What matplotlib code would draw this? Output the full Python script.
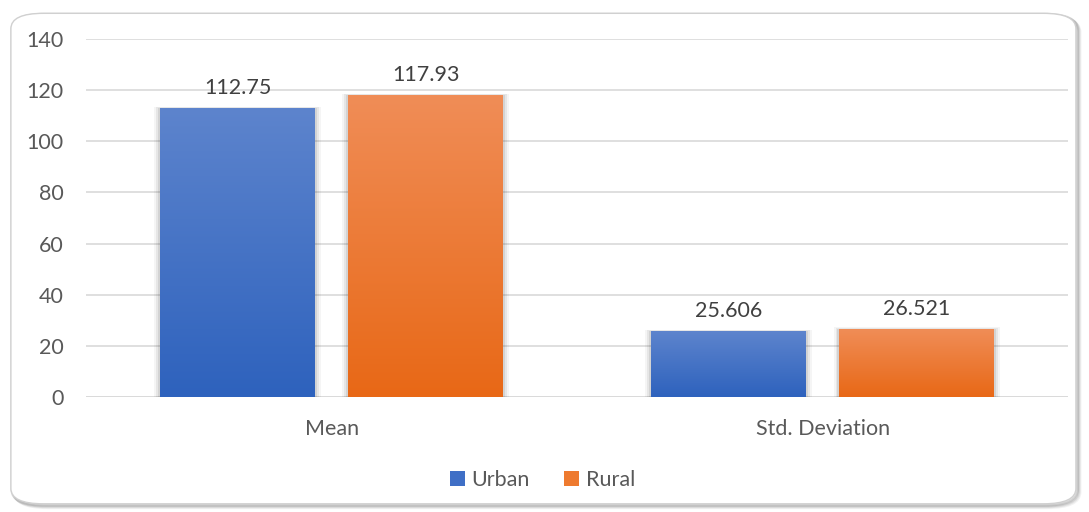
import numpy as np
import matplotlib.pyplot as plt
from matplotlib.patches import FancyBboxPatch, Rectangle
from matplotlib.colors import LinearSegmentedColormap

categories = ['Mean', 'Std. Deviation']
series_names = ['Urban', 'Rural']
urban = [112.75, 25.606]
rural = [117.93, 26.521]
value_labels = [['112.75', '25.606'], ['117.93', '26.521']]

plt.rcParams['font.family'] = ['Lato', 'DejaVu Sans']
txt = '#595959'
fs = 15.5

fig = plt.figure(figsize=(10.89, 5.12), dpi=100)

# rounded outer frame with a soft shadow
for i, a in enumerate([0.05, 0.06, 0.08, 0.10]):
    off = 0.0035 - i * 0.0008
    fig.patches.append(FancyBboxPatch((0.010 + off, 0.016 - off * 2), 0.978, 0.958,
                                      boxstyle='round,pad=0,rounding_size=0.03',
                                      transform=fig.transFigure, fc='none',
                                      ec=(0, 0, 0, a), lw=2.5, zorder=0))
fig.patches.append(FancyBboxPatch((0.010, 0.016), 0.978, 0.958,
                                  boxstyle='round,pad=0,rounding_size=0.03',
                                  transform=fig.transFigure, fc='white',
                                  ec='#D0D0D0', lw=1.0, zorder=0))

ax = fig.add_axes([0.079, 0.2246, 0.902, 0.6994], zorder=2)
ax.set_facecolor('none')
ax.set_xlim(-0.5, 1.5)
ax.set_ylim(0, 140)
ax.set_yticks(range(0, 141, 20))
ax.yaxis.grid(True, color='#D9D9D9', lw=1.2)
ax.set_axisbelow(True)
for s in ax.spines.values():
    s.set_visible(False)
ax.tick_params(axis='y', length=0, labelsize=fs, colors=txt, pad=16)
ax.tick_params(axis='x', length=0, labelsize=fs, colors=txt, pad=16)
ax.set_xticks([0, 1])
ax.set_xticklabels(categories)
ax.axhline(0, color='#D9D9D9', lw=1.2, zorder=1)

blue = LinearSegmentedColormap.from_list('b', ['#2E62BD', '#5D84CD'])
orange = LinearSegmentedColormap.from_list('o', ['#E86816', '#F08D57'])

w = 0.315
gap = 0.034
x = np.arange(len(categories))
grad = np.linspace(0, 1, 256).reshape(-1, 1)
for vals, cmap, off, labs in [(urban, blue, -(w / 2 + gap), value_labels[0]),
                              (rural, orange, (w / 2 + gap), value_labels[1])]:
    bars = ax.bar(x + off, vals, w, color='none', zorder=2)
    for b, v, lab in zip(bars, vals, labs):
        x0 = b.get_x()
        # faint shadow round each bar
        for k, a in enumerate([0.04, 0.06, 0.08]):
            d = 0.012 - k * 0.004
            ax.add_patch(Rectangle((x0 - d, 0), w + 2 * d, v + d * 60,
                                   fc=(0, 0, 0, a), ec='none', zorder=2))
        ax.imshow(grad, cmap=cmap, extent=(x0, x0 + w, 0, v), origin='lower',
                  aspect='auto', zorder=3)
        ax.text(x0 + w / 2, v + 4, lab, ha='center', va='bottom',
                fontsize=fs, color='#404040', zorder=4)
ax.set_xlim(-0.5, 1.5)
ax.set_ylim(0, 140)

# legend
hb = Rectangle((0, 0), 1, 1, fc='#3F6FC6')
ho = Rectangle((0, 0), 1, 1, fc='#EE7A2F')
fig.legend([hb, ho], series_names, loc='center', bbox_to_anchor=(0.498, 0.062),
           ncol=2, frameon=False, fontsize=fs, labelcolor=txt,
           handlelength=0.7, handleheight=0.7, handletextpad=0.3, columnspacing=1.6)

fig.savefig('out.png', dpi=100)
